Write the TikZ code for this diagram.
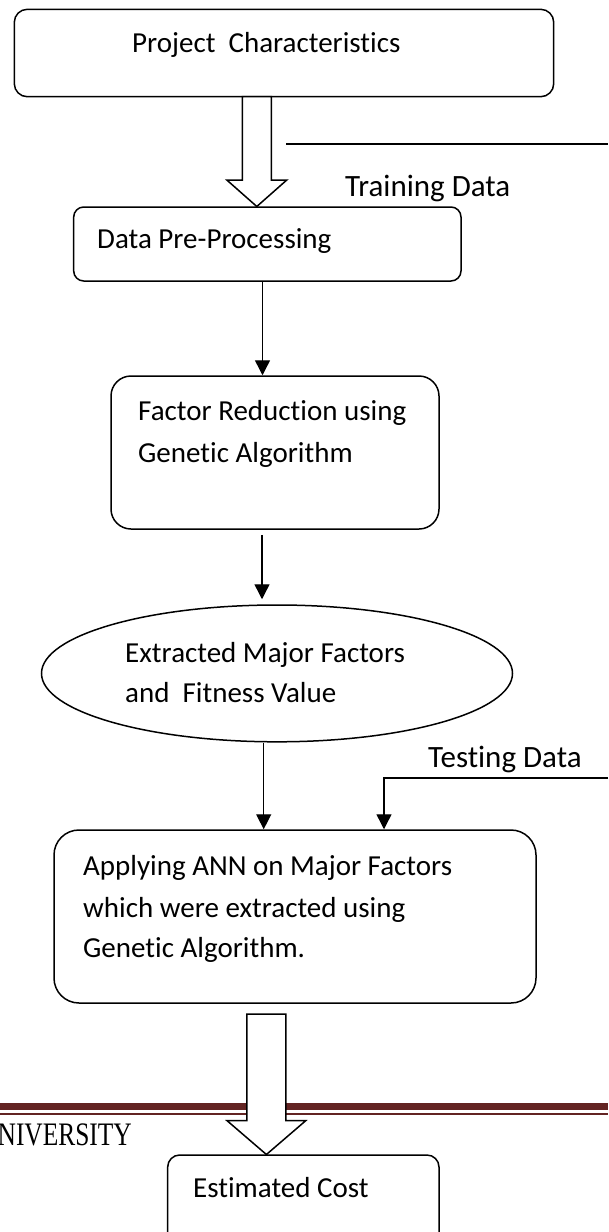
\documentclass[tikz,border=0pt]{standalone}
\usepackage{fontspec}
\setmainfont{Carlito}[Ligatures=NoCommon]
\newfontfamily\univfont{Liberation Serif}
\usetikzlibrary{arrows.meta,shapes.geometric,calc}
\definecolor{footmaroon}{RGB}{99,36,35}
\begin{document}
\begin{tikzpicture}[x=1pt,y=-1pt,
  box/.style={draw=black, line width=1.5pt, rounded corners=#1, inner sep=0pt, fill=white, rectangle},
  txt/.style={anchor=base west, inner sep=0pt, font=\fontsize{29}{41}\selectfont},
  lbl/.style={anchor=base west, inner sep=0pt, font=\fontsize{31}{37}\selectfont},
  conn/.style={line width=1.4pt, -{Triangle[length=15pt,width=15pt]}},
  plain/.style={line width=1.4pt},
  hollow/.style={draw=black, line width=1.5pt, fill=white, line join=miter}]
\useasboundingbox (0,0) rectangle (608,1232);
\clip (0,0) rectangle (608,1232);
\fill[white] (0,0) rectangle (608,1232);

% footer rules (behind the arrow)
\fill[footmaroon] (0,1103) rectangle (608,1109.5);
\fill[footmaroon] (0,1112.7) rectangle (608,1115);
\node[anchor=base east, inner sep=0pt, font=\univfont\fontsize{32.8}{36}\selectfont] (univ) at (132,1145) {\scalebox{0.775}[1]{NIVERSITY}};

% boxes
\node[box=13pt, minimum width=539.4pt, minimum height=87.4pt] (pc) at (284,53) {};
\node[txt] (pct) at (132,52) {Project~~Characteristics};

\node[box=10pt, minimum width=387.3pt, minimum height=74pt] (dpp) at (267.35,244) {};
\node[txt] (dppt) at (97,248) {Data Pre-Processing};

\node[box=20pt, minimum width=328pt, minimum height=153pt] (fr) at (275,452.5) {};
\node[txt] (frt1) at (138,420) {Factor Reduction using};
\node[txt] (frt2) at (138,462) {Genetic Algorithm};

\node[draw=black, line width=1.5pt, ellipse, inner sep=0pt, minimum width=471pt, minimum height=136.8pt] (el) at (277,673.4) {};
\node[txt] (elt1) at (125,662) {Extracted Major Factors};
\node[txt] (elt2) at (125,702) {and~~Fitness Value};

\node[box=25pt, minimum width=482pt, minimum height=173pt] (ann) at (295,916.5) {};
\node[txt] (annt1) at (83,875) {Applying ANN on Major Factors};
\node[txt] (annt2) at (83,917) {which were extracted using};
\node[txt] (annt3) at (83,957) {Genetic Algorithm.};

\node[box=12pt, minimum width=271.3pt, minimum height=95pt] (ec) at (303.35,1202.5) {};
\node[txt] (ect) at (193,1197) {Estimated Cost};

% labels
\node[lbl] (train) at (345,196) {Training Data};
\node[lbl] (test) at (428,767) {Testing Data};

% column coordinates
\coordinate (c1) at (262.5,0);
\coordinate (c2) at (262,0);
\coordinate (c3) at (263.7,0);
\coordinate (c4) at (384,0);

% connectors
\draw[conn] (dpp.south -| c1) -- (fr.north -| c1);
\draw[conn, shorten <=5pt, shorten >=5pt] (fr.south -| c2) -- (el.north -| c2);
\draw[conn] (el.south -| c3) -- (ann.north -| c3);

\coordinate (trs) at (286,144);
\coordinate (tre) at (608,144);
\draw[plain] (trs) -- (tre);

\coordinate (tin) at (608,778);
\draw[conn] (tin) -| (ann.north -| c4);

% hollow block arrows
\draw[hollow] (242.3,96.7) -- (242.3,180) -- (226.8,180) -- (256.8,206.5) -- (286.8,180) -- (271.3,180) -- (271.3,96.7) -- cycle;
\draw[hollow] (246.9,1014) -- (246.9,1120.7) -- (227.1,1120.7) -- (266.4,1154.5) -- (305.7,1120.7) -- (285.9,1120.7) -- (285.9,1014) -- cycle;
\end{tikzpicture}
\end{document}
